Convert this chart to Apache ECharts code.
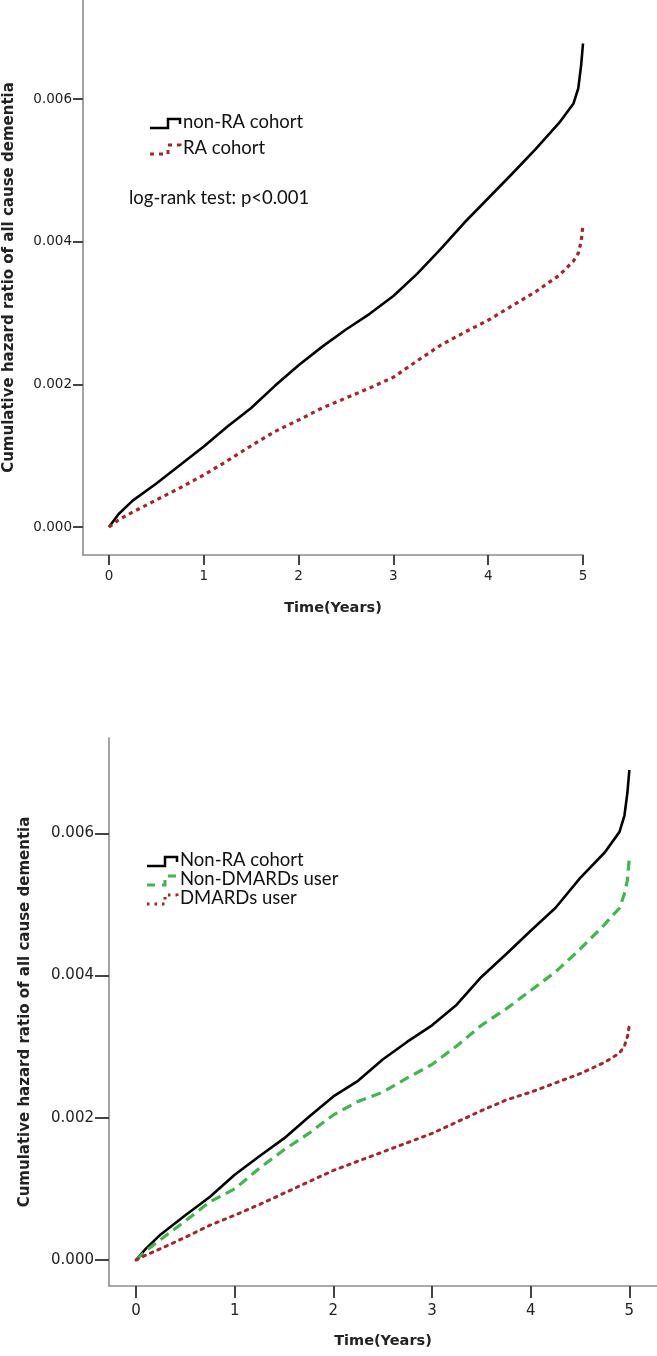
<!DOCTYPE html>
<html>
<head>
<meta charset="utf-8">
<script src="https://cdn.jsdelivr.net/npm/echarts@6/dist/echarts.min.js"></script>
<style>
html,body{margin:0;padding:0;background:#fff;}
#c{width:657px;height:1356px;}
</style>
</head>
<body>
<div id="c"></div>
<script>
// ---- data ----
var timePoints = [0, 0.1, 0.25, 0.5, 0.75, 1, 1.25, 1.5, 1.75, 2, 2.25, 2.5, 2.75, 3, 3.25, 3.5, 3.75, 4, 4.25, 4.5, 4.75, 4.9, 4.95, 4.98, 5];
var nonRATop = [0, 0.00018, 0.00037, 0.00061, 0.00087, 0.00113, 0.00141, 0.00167, 0.00198, 0.00227, 0.00253, 0.00277, 0.00299, 0.00324, 0.00355, 0.0039, 0.00427, 0.00461, 0.00495, 0.0053, 0.00567, 0.00594, 0.00615, 0.00647, 0.00678];
var raTop = [0, 0.0001, 0.00021, 0.00038, 0.00055, 0.00073, 0.00093, 0.00114, 0.00134, 0.0015, 0.00167, 0.00181, 0.00195, 0.0021, 0.00233, 0.00255, 0.00273, 0.0029, 0.0031, 0.0033, 0.00353, 0.00373, 0.00384, 0.004, 0.00424];
var nonRABottom = [0, 0.00016, 0.00036, 0.00063, 0.00089, 0.0012, 0.00146, 0.00171, 0.00201, 0.0023, 0.00252, 0.00282, 0.00307, 0.0033, 0.00359, 0.00398, 0.0043, 0.00463, 0.00495, 0.00537, 0.00573, 0.00602, 0.00625, 0.00657, 0.00689];
var nonDMARDs = [0, 0.00013, 0.00029, 0.00055, 0.00082, 0.001, 0.00129, 0.00155, 0.00178, 0.00204, 0.00223, 0.00236, 0.00256, 0.00275, 0.00301, 0.0033, 0.00353, 0.00379, 0.00405, 0.00437, 0.00472, 0.00495, 0.00515, 0.00534, 0.00566];
var dmards = [0, 0.00007, 0.00016, 0.00032, 0.00049, 0.00063, 0.00078, 0.00094, 0.0011, 0.00126, 0.00139, 0.00152, 0.00165, 0.00178, 0.00194, 0.0021, 0.00225, 0.00236, 0.00249, 0.00262, 0.00278, 0.00291, 0.00301, 0.00314, 0.0033];
var xTicks = [0, 1, 2, 3, 4, 5];
var yTicks = [0, 0.002, 0.004, 0.006];
var yTitle = 'Cumulative hazard ratio of all cause dementia';
var xTitle = 'Time(Years)';
var legendTop = ['non-RA cohort', 'RA cohort'];
var legendBottom = ['Non-RA cohort', 'Non-DMARDs user', 'DMARDs user'];
var testText = 'log-rank test: p<0.001';

function pairs(xs, ys){ return xs.map(function(x,i){ return [x, ys[i]]; }); }

var AXIS_COLOR = '#8c8c8c';
var TICK_COLOR = '#444';
var TXT = '#222';
var RED = '#a8232b';
var GREEN = '#3db84a';
var LEGEND_FONT = 'Lato, "Noto Sans", sans-serif';

function xAx(gi, max, fs, tickLen, margin, gap){
  return {
    type:'value', gridIndex:gi, min:-0.274, max:max,
    axisLine:{show:true, onZero:false, lineStyle:{color:AXIS_COLOR, width:1.6}},
    axisTick:{show:true, customValues:xTicks, length:tickLen, lineStyle:{color:TICK_COLOR, width:2}},
    axisLabel:{customValues:xTicks, color:TXT, fontSize:fs, fontFamily:'DejaVu Sans', margin:margin,
      formatter:function(v){return String(v);}},
    splitLine:{show:false},
    name:xTitle, nameLocation:'middle', nameGap:gap,
    nameTextStyle:{fontWeight:'bold', fontSize:14.5, color:TXT, fontFamily:'DejaVu Sans'}
  };
}
function yAx(gi, min, max, fs, tickLen, margin, gap){
  return {
    type:'value', gridIndex:gi, min:min, max:max,
    axisLine:{show:true, onZero:false, lineStyle:{color:AXIS_COLOR, width:1.6}},
    axisTick:{show:true, customValues:yTicks, length:tickLen, lineStyle:{color:TICK_COLOR, width:2}},
    axisLabel:{customValues:yTicks, color:TXT, fontSize:fs, fontFamily:'DejaVu Sans', margin:margin,
      formatter:function(v){return v.toFixed(3);}},
    splitLine:{show:false},
    name:yTitle, nameLocation:'middle', nameGap:gap, nameRotate:90,
    nameTextStyle:{fontWeight:'bold', fontSize:15, color:TXT, fontFamily:'DejaVu Sans'}
  };
}

function legendItem(x, y, color, dash, w, text){
  return [
    {type:'polyline', silent:true,
      shape:{points:[[x, y+4],[x+18, y+4],[x+18, y-5],[x+30, y-5],[x+30, y]]},
      style:{stroke:color, lineWidth:w, lineDash:dash, fill:null}},
    {type:'text', left:x+33, top:y-11, style:{text:text, fill:'#111', font:'18.5px ' + LEGEND_FONT}}
  ];
}

var graphics = [].concat(
  legendItem(150, 124, '#000', null, 2.5, legendTop[0]),
  legendItem(150, 150, RED, [4,5], 3, legendTop[1]),
  [{type:'text', left:129, top:189, style:{text:testText, fill:'#111', font:'18.5px ' + LEGEND_FONT}}],
  legendItem(147, 862, '#000', null, 2.5, legendBottom[0]),
  legendItem(147, 881, GREEN, [8,7], 3, legendBottom[1]),
  legendItem(147, 900, RED, [2.5,5], 3, legendBottom[2])
);

var option = {
  backgroundColor:'#fff',
  animation:false,
  grid:[
    {left:83, top:0, width:500, height:555, outerBoundsMode:'none', containLabel:false},
    {left:109, top:738, width:548, height:548, outerBoundsMode:'none', containLabel:false}
  ],
  xAxis:[ xAx(0, 5, 13.5, 10, 14, 46), xAx(1, 5.28, 15, 12, 18, 48) ],
  yAxis:[ yAx(0, -0.000392, 0.00739, 13.5, 10, 11, 66), yAx(1, -0.000365, 0.00734, 15, 14, 15, 76) ],
  series:[
    {type:'line', xAxisIndex:0, yAxisIndex:0, data:pairs(timePoints, nonRATop), showSymbol:false,
      lineStyle:{color:'#000', width:2.6}},
    {type:'line', xAxisIndex:0, yAxisIndex:0, data:pairs(timePoints, raTop), showSymbol:false,
      lineStyle:{color:RED, width:3.2, type:[4,4]}},
    {type:'line', xAxisIndex:1, yAxisIndex:1, data:pairs(timePoints, nonRABottom), showSymbol:false,
      lineStyle:{color:'#000', width:2.6}},
    {type:'line', xAxisIndex:1, yAxisIndex:1, data:pairs(timePoints, nonDMARDs), showSymbol:false,
      lineStyle:{color:GREEN, width:3.2, type:[10,6]}},
    {type:'line', xAxisIndex:1, yAxisIndex:1, data:pairs(timePoints, dmards), showSymbol:false,
      lineStyle:{color:RED, width:3, type:[2.5,5.5], cap:'round'}}
  ],
  graphic:graphics
};

var chart = echarts.init(document.getElementById('c'), null, {renderer:'canvas'});
chart.setOption(option);
</script>
</body>
</html>
